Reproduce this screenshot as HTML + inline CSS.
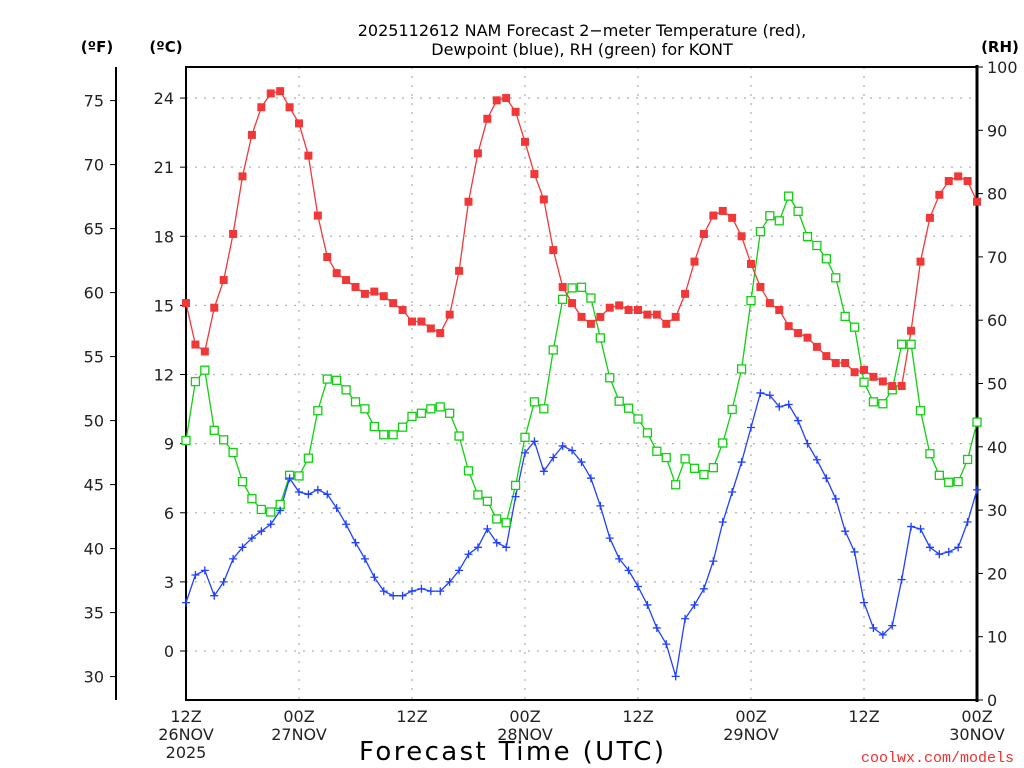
<!DOCTYPE html>
<html><head><meta charset="utf-8"><style>
body{margin:0;background:#fff;}
svg{display:block;font-family:"DejaVu Sans","Liberation Sans",sans-serif;}
</style></head><body>
<svg id="chart" width="1024" height="768" viewBox="0 0 1024 768" xmlns="http://www.w3.org/2000/svg">
<rect width="1024" height="768" fill="#fff"/>
<g id="grid"></g>
<g id="axes"></g>
<g id="series"></g>
<text x="582" y="36" font-size="16" text-anchor="middle">2025112612 NAM Forecast 2−meter Temperature (red),</text>
<text x="582" y="55" font-size="16" text-anchor="middle">Dewpoint (blue), RH (green) for KONT</text>
<text x="97" y="52" font-size="15" font-weight="bold" text-anchor="middle">(ºF)</text>
<text x="166" y="52" font-size="15" font-weight="bold" text-anchor="middle">(ºC)</text>
<text x="1000" y="52" font-size="15" font-weight="bold" text-anchor="middle">(RH)</text>
<text x="359" y="760" font-size="26" textLength="305" lengthAdjust="spacing">Forecast Time (UTC)</text>
<text x="1014" y="762" font-size="15" fill="#f03030" text-anchor="end" font-family="Liberation Mono, monospace">coolwx.com/models</text>
</svg>
<script>
const temps = [15.1,13.3,13.0,14.9,16.1,18.1,20.6,22.4,23.6,24.2,24.3,23.6,22.9,21.5,18.9,17.1,16.4,16.1,15.8,15.5,15.6,15.4,15.1,14.8,14.3,14.3,14.0,13.8,14.6,
16.5,19.5,21.6,23.1,23.9,24.0,23.4,22.1,20.7,19.6,17.4,15.8,15.1,14.5,14.2,14.5,14.9,15.0,14.8,14.8,14.6,14.6,14.2,14.5,15.5,16.9,18.1,
18.9,19.1,18.8,18.0,16.8,15.8,15.1,14.8,14.1,13.8,13.6,13.2,12.8,12.5,12.5,12.1,12.2,11.9,11.7,11.5,11.5,13.9,16.9,18.8,19.8,20.4,20.6,20.4,19.5];
const dewpoints = [2.1,3.3,3.5,2.4,3.0,4.0,4.5,4.9,5.2,5.5,6.1,7.5,6.9,6.8,7.0,6.8,6.2,5.5,4.7,4.0,3.2,2.6,2.4,2.4,2.6,2.7,2.6,2.6,3.0,
3.5,4.2,4.5,5.3,4.7,4.5,6.7,8.6,9.1,7.8,8.4,8.9,8.7,8.2,7.5,6.3,4.9,4.0,3.5,2.8,2.0,1.0,0.3,-1.1,1.4,2.0,2.7,
3.9,5.6,6.9,8.2,9.7,11.2,11.1,10.6,10.7,10.0,9.0,8.3,7.5,6.6,5.2,4.3,2.1,1.0,0.7,1.1,3.1,5.4,5.3,4.5,4.2,4.3,4.5,5.6,7.0];
const rh = [41.0,50.3,52.1,42.6,41.1,39.1,34.5,31.8,30.1,29.7,30.9,35.5,35.4,38.2,45.7,50.7,50.5,49.0,47.1,46.0,43.2,41.9,41.9,43.1,44.8,45.3,46.0,46.3,45.3,
41.7,36.2,32.4,31.4,28.6,28.0,33.9,41.5,47.1,46.0,55.3,63.3,65.1,65.2,63.5,57.2,50.9,47.2,46.1,44.4,42.2,39.3,38.3,34.0,38.1,36.6,35.6,
36.7,40.6,45.9,52.3,63.1,74.0,76.5,75.7,79.6,77.2,73.2,71.8,69.7,66.7,60.6,58.9,50.2,47.1,46.8,49.0,56.2,56.2,45.7,38.9,35.5,34.4,34.5,38.0,43.9];
const celsiusTicks = [0,3,6,9,12,15,18,21,24];
const fahrenheitTicks = [30,35,40,45,50,55,60,65,70,75];
const rhTicks = [0,10,20,30,40,50,60,70,80,90,100];
const timeLabels = [["12Z","26NOV","2025"],["00Z","27NOV"],["12Z"],["00Z","28NOV"],["12Z"],["00Z","29NOV"],["12Z"],["00Z","30NOV"]];

const L=186,R=977,T=67,B=700;
const xH = h => L + (R-L)*h/84;
const yC = c => 651 - c*23.04;
const yF = f => yC((f-32)*5/9);
const yRH = v => B - (B-T)*v/100;
const NS="http://www.w3.org/2000/svg";
function mk(tag, attrs, parent){const e=document.createElementNS(NS,tag);for(const k in attrs)e.setAttribute(k,attrs[k]);parent.appendChild(e);return e;}
const grid=document.getElementById('grid'), axes=document.getElementById('axes'), series=document.getElementById('series');

celsiusTicks.forEach(c=>{
  const g=mk('line',{x1:L,x2:R,y1:yC(c),y2:yC(c),stroke:'#b4b4b4','stroke-width':1.3,'stroke-dasharray':'2,7'},grid);
  
  
  const t=mk('line',{x1:L-6,x2:L,y1:yC(c),y2:yC(c),stroke:'#000','stroke-width':1},axes);
  
  
  const tx=mk('text',{x:L-12,y:yC(c)+6,'font-size':16,'text-anchor':'end',fill:'#222'},axes);
  tx.textContent=c;
  
  
});
timeLabels.forEach((lab,i)=>{
  const x=xH(i*12);
  if(i>0&&i<timeLabels.length-1){
    const g=mk('line',{x1:x,x2:x,y1:T,y2:B,stroke:'#b4b4b4','stroke-width':1.3,'stroke-dasharray':'2,7'},grid);
    
    
  }
  lab.forEach((s,j)=>{
    const tx=mk('text',{x:x,y:722+j*18,'font-size':16,'text-anchor':'middle',fill:'#222'},axes);
    tx.textContent=s;
    
    
  });
});
fahrenheitTicks.forEach(f=>{
  const t=mk('line',{x1:110,x2:116,y1:yF(f),y2:yF(f),stroke:'#000','stroke-width':1},axes);
  
  
  const tx=mk('text',{x:104,y:yF(f)+6,'font-size':16,'text-anchor':'end',fill:'#222'},axes);
  tx.textContent=f;
  
  
});
rhTicks.forEach(v=>{
  const t=mk('line',{x1:R,x2:R+6,y1:yRH(v),y2:yRH(v),stroke:'#000','stroke-width':1},axes);
  
  
  const tx=mk('text',{x:R+10,y:yRH(v)+6,'font-size':16,'text-anchor':'start',fill:'#222'},axes);
  tx.textContent=v;
  
  
});
const frame=mk('rect',{x:L,y:T,width:R-L,height:B-T,fill:'none',stroke:'#000','stroke-width':2},axes);


const rax=mk('line',{x1:R,x2:R,y1:T-2,y2:B+2,stroke:'#000','stroke-width':3},axes);


const fax=mk('line',{x1:116,x2:116,y1:67,y2:700,stroke:'#000','stroke-width':2},axes);



function drawLine(vals, yfn, color, name){
  const pts=vals.map((v,i)=>xH(i).toFixed(1)+','+yfn(v).toFixed(1)).join(' ');
  const p=mk('polyline',{points:pts,fill:'none',stroke:color,'stroke-width':1.3},series);
  
  
}
drawLine(rh,yRH,'#10d010','rh');
drawLine(dewpoints,yC,'#2040ff','dewpoint');
drawLine(temps,yC,'#f03838','temperature');
rh.forEach((v,i)=>{
  const m=mk('rect',{x:xH(i)-4,y:yRH(v)-4,width:8,height:8,fill:'#fff',stroke:'#10d010','stroke-width':1.3},series);
  
  
});
dewpoints.forEach((v,i)=>{
  const x=xH(i),y=yC(v);
  const m=mk('path',{d:`M${x-4},${y}H${x+4}M${x},${y-4}V${y+4}`,stroke:'#2040ff','stroke-width':1.3,fill:'none'},series);
  
  
});
temps.forEach((v,i)=>{
  const m=mk('rect',{x:xH(i)-4,y:yC(v)-4,width:8,height:8,fill:'#f03838'},series);
  
  
});
</script>
</body></html>
